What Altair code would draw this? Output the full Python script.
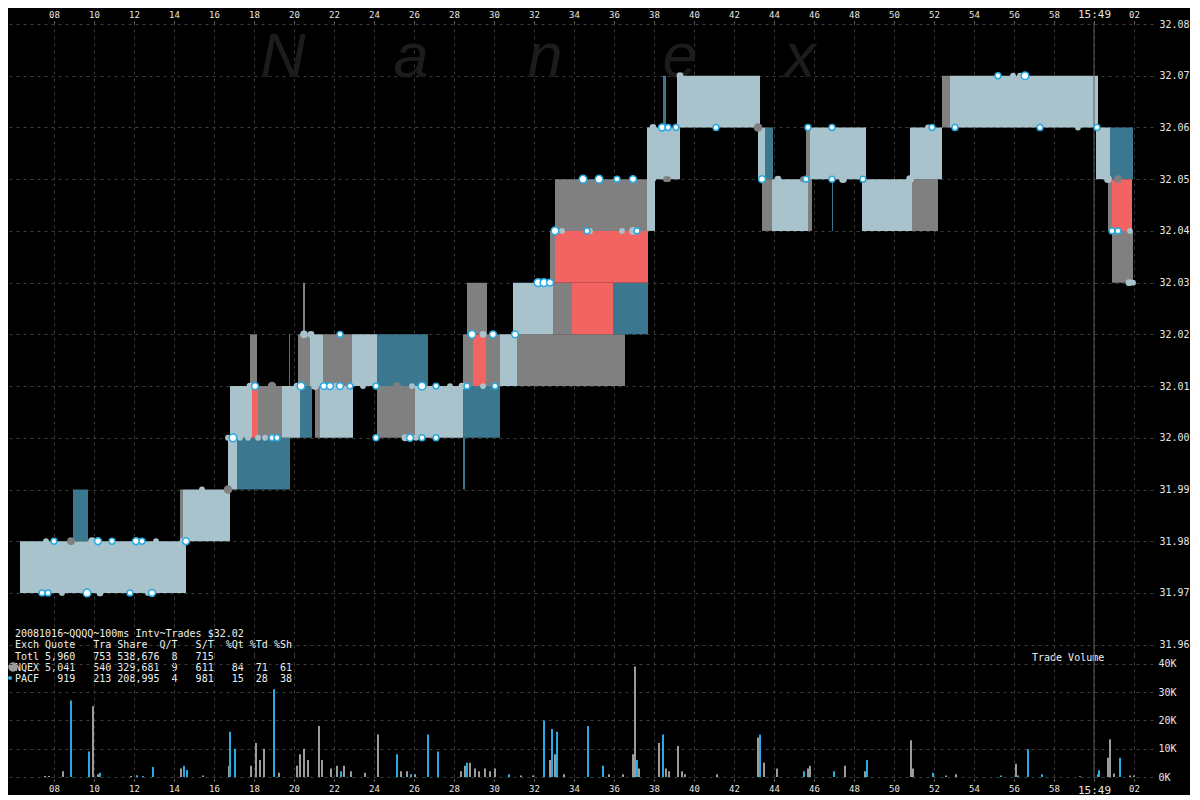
import altair as alt
import pandas as pd

# ---------------- data (time = seconds after 15:48:00) ----------------
# quote bands: start, end, low, high, kind (S solid quote band, W sparse grey quotes, B sparse blue quotes, R crossed)
band_t0 = [6.3, 8.95, 14.3, 14.45, 16.7, 17.15, 16.8, 17.9, 18.2, 19.4,
           20.3, 21.05, 21.3, 24.15, 26.05, 28.45, 28.45, 17.8, 19.75, 20.2,
           20.45, 20.8, 21.45, 22.9, 24.15, 28.45, 28.95, 29.6, 30.3, 31.15,
           28.65, 30.95, 32.95, 33.9, 35.95, 32.8, 33.05, 33.05, 37.65, 38.05,
           38.45, 39.15, 43.2, 43.55, 43.4, 43.9, 45.7, 46.9, 45.6, 45.8,
           48.4, 50.9, 50.8, 52.4, 52.8, 60.1, 60.8, 60.7, 60.9, 60.9]
band_t1 = [14.6, 9.7, 14.45, 16.8, 17.15, 19.8, 17.9, 18.2, 19.4, 20.3,
           20.9, 21.3, 22.95, 26.05, 28.45, 30.3, 28.55, 18.15, 19.8, 20.8,
           20.55, 21.45, 22.9, 24.15, 26.7, 28.95, 29.6, 30.3, 31.15, 36.55,
           29.65, 32.95, 33.9, 35.95, 37.7, 33.05, 37.7, 37.65, 38.05, 39.3,
           38.6, 43.3, 43.55, 43.95, 43.9, 45.7, 45.9, 46.95, 45.8, 48.6,
           50.9, 52.2, 52.4, 52.8, 60.2, 60.8, 61.95, 60.9, 61.9, 61.95]
band_lo = [31.97, 31.98, 31.98, 31.98, 31.99, 31.99, 32.00, 32.00, 32.00, 32.00,
           32.00, 32.00, 32.00, 32.00, 32.00, 32.00, 31.99, 32.01, 32.01, 32.01,
           32.02, 32.01, 32.01, 32.01, 32.01, 32.01, 32.01, 32.01, 32.01, 32.01,
           32.02, 32.02, 32.02, 32.02, 32.02, 32.03, 32.03, 32.04, 32.04, 32.05,
           32.06, 32.06, 32.05, 32.05, 32.04, 32.04, 32.04, 32.04, 32.05, 32.05,
           32.04, 32.04, 32.05, 32.06, 32.06, 32.05, 32.05, 32.04, 32.04, 32.03]
band_hi = [31.98, 31.99, 31.99, 31.99, 32.00, 32.00, 32.01, 32.01, 32.01, 32.01,
           32.01, 32.01, 32.01, 32.01, 32.01, 32.01, 32.00, 32.02, 32.02, 32.02,
           32.03, 32.02, 32.02, 32.02, 32.02, 32.02, 32.02, 32.02, 32.02, 32.02,
           32.03, 32.03, 32.03, 32.03, 32.03, 32.04, 32.04, 32.05, 32.06, 32.06,
           32.07, 32.07, 32.06, 32.06, 32.05, 32.05, 32.05, 32.05, 32.06, 32.06,
           32.05, 32.05, 32.06, 32.07, 32.07, 32.06, 32.06, 32.05, 32.05, 32.04]
band_kind = ["S", "B", "W", "S", "S", "B", "S", "R", "W", "S",
             "B", "W", "S", "W", "S", "B", "B", "W", "B", "W",
             "W", "S", "W", "S", "B", "W", "R", "W", "S", "W",
             "W", "S", "W", "R", "B", "W", "R", "W", "S", "S",
             "B", "S", "S", "B", "W", "S", "W", "B", "W", "S",
             "S", "W", "S", "W", "S", "S", "B", "W", "R", "W"]

# trades: time, price, kind (N = NQEX, P = PACF, W = PACF hollow), size level
trade_t = [7.6, 8.0, 8.85, 9.9, 10.2, 10.9, 12.1, 12.4, 13.1, 14.45, 14.6,
           7.4, 7.7, 8.4, 9.65, 10.3, 11.8, 12.7, 12.9,
           15.4, 16.7,
           16.7, 16.95, 17.3, 17.7, 18.2, 18.55, 18.9, 19.15, 24.1, 25.55, 25.8, 26.1, 26.4, 27.1,
           17.8, 18.05, 18.9, 20.15, 20.35, 21.05, 21.5, 21.8, 22.1, 22.3, 22.8,
           23.45, 24.1, 25.15, 25.9, 26.4, 27.1, 27.8, 28.4, 28.65, 29.45, 30.05,
           20.5, 20.85, 22.3, 28.9, 29.45, 29.95, 31.05,
           32.2, 32.5, 32.55, 32.8,
           33.05, 33.4, 34.65, 34.8, 36.4, 36.95, 37.15,
           34.45, 35.25, 36.15, 36.95, 37.95, 38.7,
           37.95, 38.4, 38.7, 39.1, 41.1, 43.2, 45.7, 46.9, 51.7, 51.9, 53.05, 57.3, 59.2, 60.15,
           39.3, 55.2, 55.95, 56.3, 56.55,
           38.6, 43.4, 44.2, 45.45, 45.6, 46.9, 47.45, 48.45, 50.8, 60.7, 61.2,
           60.9, 61.2, 61.8,
           61.75, 61.95]
trade_px = [31.98, 31.98, 31.98, 31.98, 31.98, 31.98, 31.98, 31.98, 31.98, 31.98, 31.98,
            31.97, 31.97, 31.97, 31.97, 31.97, 31.97, 31.97, 31.97,
            31.99, 31.99,
            32.00, 32.00, 32.00, 32.00, 32.00, 32.00, 32.00, 32.00, 32.00, 32.00, 32.00, 32.00, 32.00, 32.00,
            32.01, 32.01, 32.01, 32.01, 32.01, 32.01, 32.01, 32.01, 32.01, 32.01, 32.01,
            32.01, 32.01, 32.01, 32.01, 32.01, 32.01, 32.01, 32.01, 32.01, 32.01, 32.01,
            32.02, 32.02, 32.02, 32.02, 32.02, 32.02, 32.02,
            32.03, 32.03, 32.03, 32.03,
            32.04, 32.04, 32.04, 32.04, 32.04, 32.04, 32.04,
            32.05, 32.05, 32.05, 32.05, 32.05, 32.05,
            32.06, 32.06, 32.06, 32.06, 32.06, 32.06, 32.06, 32.06, 32.06, 32.06, 32.06, 32.06, 32.06, 32.06,
            32.07, 32.07, 32.07, 32.07, 32.07,
            32.05, 32.05, 32.05, 32.05, 32.05, 32.05, 32.05, 32.05, 32.05, 32.05, 32.05,
            32.04, 32.04, 32.04,
            32.03, 32.03]
trade_kind = ["N", "W", "P", "N", "W", "W", "W", "W", "N", "N", "W",
              "W", "W", "N", "W", "N", "W", "N", "W",
              "N", "P",
              "N", "W", "N", "N", "N", "N", "W", "W", "W", "N", "W", "N", "W", "W",
              "N", "W", "P", "N", "W", "N", "W", "W", "N", "W", "W",
              "N", "W", "P", "N", "W", "W", "N", "N", "W", "N", "W",
              "N", "N", "W", "W", "N", "W", "W",
              "W", "W", "N", "W",
              "W", "N", "W", "N", "N", "N", "W",
              "W", "W", "W", "W", "N", "P",
              "N", "W", "W", "W", "W", "P", "W", "W", "N", "W", "W", "W", "N", "W",
              "N", "W", "N", "N", "W",
              "P", "W", "N", "P", "W", "W", "N", "W", "N", "N", "P",
              "W", "W", "N",
              "N", "N"]
trade_lvl = [1, 1, 3, 3, 2, 1, 2, 1, 1, 2, 2,
             1, 1, 1, 3, 2, 1, 1, 2,
             1, 4,
             1, 3, 1, 1, 1, 1, 1, 1, 1, 2, 2, 1, 1, 1,
             2, 2, 4, 2, 3, 3, 2, 2, 2, 2, 1,
             1, 1, 3, 1, 3, 1, 1, 2, 1, 1, 1,
             3, 2, 1, 3, 2, 2, 2,
             3, 3, 1, 2,
             3, 1, 1, 1, 1, 3, 1,
             3, 3, 1, 2, 1, 1,
             2, 2, 1, 1, 1, 4, 1, 1, 1, 1, 1, 1, 1, 1,
             2, 1, 1, 1, 3,
             1, 2, 2, 1, 1, 1, 3, 1, 3, 3, 3,
             1, 1, 1,
             2, 1]

# trade volume per 100 ms interval (thousands of shares)
vol_t = [7.5, 7.7, 8.4, 8.8, 9.7, 9.9, 10.15, 10.25, 11.8, 12.1,
         12.4, 12.9, 14.3, 14.45, 14.6, 15.4, 16.7, 16.75, 17.0, 17.8,
         18.05, 18.25, 18.45, 18.95, 19.2, 20.1, 20.25, 20.45, 20.65, 21.2,
         21.35, 21.8, 22.1, 22.3, 22.45, 22.8, 23.5, 24.15, 25.1, 25.3,
         25.6, 25.8, 26.0, 26.65, 27.15, 28.3, 28.5, 28.6, 28.75, 29.0,
         29.2, 29.5, 29.75, 30.0, 30.7, 31.3, 31.9, 32.45, 32.75, 32.85,
         33.0, 33.1, 33.45, 34.65, 35.4, 35.7, 36.4, 36.9, 37.0, 37.1,
         37.2, 38.2, 38.4, 38.55, 38.7, 39.15, 39.35, 39.5, 41.1, 43.15,
         43.25, 43.45, 44.1, 45.45, 45.65, 45.75, 46.95, 47.5, 48.5, 48.6,
         50.8, 50.9, 51.9, 52.55, 53.05, 55.3, 56.05, 56.15, 56.65, 57.35,
         59.25, 60.15, 60.2, 60.65, 60.75, 60.95, 61.25, 61.75, 61.95]
vol_k = [0.4, 0.4, 2, 27, 9, 25, 1, 1.5, 0.4, 0.6,
         0.4, 3.5, 3, 4, 2.5, 0.5, 4, 16, 10, 4,
         12, 6, 10, 31, 1.5, 4, 8, 10, 6, 18,
         6, 3, 4, 2, 4, 2, 1.5, 15, 8, 2,
         2, 1, 1, 15, 9, 2, 4, 5, 5, 3,
         2, 3, 2, 3, 1, 0.5, 0.5, 20, 6, 17,
         8, 16, 1, 18, 4, 1, 1, 8, 39, 6,
         3, 12, 15, 3, 2, 11, 2, 1, 1, 14,
         15, 5, 3, 2, 3, 4, 2, 4, 2, 6,
         13, 3, 1.5, 0.5, 1, 0.5, 4.7, 0.5, 9.8, 1,
         0.3, 1, 2.4, 6.8, 13.3, 1.2, 6.8, 0.5, 0.5]
vol_ex = ["N", "N", "N", "P", "P", "N", "N", "P", "N", "P",
          "P", "P", "N", "P", "P", "N", "N", "P", "P", "N",
          "N", "N", "N", "P", "N", "N", "N", "N", "N", "N",
          "N", "N", "N", "P", "N", "N", "N", "N", "P", "N",
          "N", "P", "N", "P", "P", "N", "N", "P", "N", "N",
          "N", "N", "N", "N", "P", "N", "N", "P", "N", "P",
          "N", "P", "N", "P", "P", "N", "N", "N", "N", "P",
          "N", "N", "P", "N", "N", "N", "N", "N", "N", "N",
          "P", "N", "N", "P", "N", "N", "P", "N", "N", "P",
          "N", "N", "P", "N", "N", "P", "N", "P", "P", "P",
          "N", "N", "P", "N", "N", "N", "P", "N", "N"]

tick_secs = [8, 10, 12, 14, 16, 18, 20, 22, 24, 26, 28, 30, 32, 34, 36, 38, 40,
             42, 44, 46, 48, 50, 52, 54, 56, 58, 60, 62]
price_ticks = [31.96, 31.97, 31.98, 31.99, 32.00, 32.01, 32.02, 32.03, 32.04,
               32.05, 32.06, 32.07, 32.08]
vol_ticks = [0, 10, 20, 30, 40]
wm_letters = ["N", "a", "n", "e", "x"]
wm_t = [19.45, 25.85, 32.55, 39.3, 45.3]
wm_px = [32.0698, 32.0698, 32.0698, 32.0698, 32.0698]

stats_lines = [
    "20081016~QQQQ~100ms Intv~Trades $32.02",
    "Exch Quote   Tra Share  Q/T   S/T  %Qt %Td %Sh",
    "Totl 5,960   753 538,676  8   715",
    "NQEX 5,041   540 329,681  9   611   84  71  61",
    "PACF   919   213 208,995  4   981   15  28  38",
]

# ---------------- styling ----------------
FONT = "DejaVu Sans Mono"
GRID = "#3c3c3c"
LBL = "#e6e6e6"
GRAY = "#9b9b9b"
BLUE = "#2aaae2"
W_PLOT = 1145
H_PRICE = 632
H_VOL = 124

label_expr = ("datum.value == 60 ? '15:49' : "
              "((datum.value % 60) < 10 ? '0' : '') + (datum.value % 60)")
xs = alt.Scale(domain=[5.7, 62.95], nice=False, zero=False)
ys = alt.Scale(domain=[31.958, 32.0802], nice=False, zero=False)
yv = alt.Scale(domain=[-0.7, 43.1], nice=False, zero=False)

x_top = alt.Axis(orient="top", values=tick_secs, labelExpr=label_expr, grid=True,
                 gridColor=GRID, gridDash=[3, 4], domain=False, tickColor="#777",
                 tickSize=4, tickDash=[2, 2], labelColor=LBL, labelFont=FONT,
                 labelFontSize={"condition": {"test": "datum.value == 60", "value": 11}, "value": 9},
                 labelPadding=0, title=None)
x_bot = alt.Axis(orient="bottom", values=tick_secs, labelExpr=label_expr, grid=True,
                 gridColor=GRID, gridDash=[3, 4], domain=False, tickColor="#777",
                 tickSize=4, tickDash=[2, 2], labelColor=LBL, labelFont=FONT,
                 labelFontSize={"condition": {"test": "datum.value == 60", "value": 11}, "value": 9},
                 labelPadding=1, title=None)
y_price = alt.Axis(orient="right", values=price_ticks, format=".2f", grid=True,
                   gridColor=GRID, gridDash=[3, 4], domain=False, ticks=False,
                   labelColor=LBL, labelFont=FONT, labelFontSize=10, labelPadding=6, title=None)
y_vol = alt.Axis(orient="right", values=vol_ticks, labelExpr="datum.value + 'K'", grid=True,
                 gridColor=GRID, gridDash=[3, 4], domain=False, ticks=False,
                 labelColor=LBL, labelFont=FONT, labelFontSize=10, labelPadding=5, title=None)

bands = pd.DataFrame({"t0": band_t0, "t1": band_t1, "lo": band_lo, "hi": band_hi, "kind": band_kind})
trades = pd.DataFrame({"t": trade_t, "p": trade_px, "kind": trade_kind, "lvl": trade_lvl})
vols = pd.DataFrame({"t": vol_t, "v": vol_k, "ex": vol_ex})
wm = pd.DataFrame({"ch": wm_letters, "t": wm_t, "p": wm_px})
marker = pd.DataFrame({"t": [60]})
stats = pd.DataFrame({"txt": ["\n".join(l.replace(" ", "\u00a0") for l in stats_lines)]})
tv = pd.DataFrame({"txt": ["Trade\u00a0Volume"]})

size_scale = alt.Scale(domain=[1, 2, 3, 4], range=[34, 72, 145, 240])

# ---------------- price panel ----------------
watermark = alt.Chart(wm).mark_text(font="Liberation Sans", fontSize=63, fontStyle="italic",
                                    color="#1c1c1c", baseline="alphabetic", align="center").encode(
    x=alt.X("t:Q", scale=xs, axis=x_top),
    y=alt.Y("p:Q", scale=ys, axis=y_price),
    text="ch:N")

band_layer = alt.Chart(bands).mark_rect().encode(
    x=alt.X("t0:Q", scale=xs, axis=x_top), x2="t1:Q",
    y=alt.Y("lo:Q", scale=ys, axis=y_price), y2="hi:Q",
    color=alt.Color("kind:N", scale=alt.Scale(domain=["S", "W", "B", "R"],
                                              range=["#a9c3cc", "#808080", "#3b7890", "#f26462"]),
                    legend=None))

rule_p = alt.Chart(marker).mark_rule(color="#5a5a5a", strokeWidth=1).encode(
    x=alt.X("t:Q", scale=xs, axis=x_top), y=alt.value(0), y2=alt.value(H_PRICE))

solid_trades = alt.Chart(trades).transform_filter("datum.kind != 'W'").mark_circle(opacity=1).encode(
    x=alt.X("t:Q", scale=xs, axis=x_top),
    y=alt.Y("p:Q", scale=ys, axis=y_price),
    color=alt.Color("kind:N", scale=alt.Scale(domain=["N", "P"], range=[GRAY, BLUE]), legend=None),
    size=alt.Size("lvl:O", scale=size_scale, legend=None))

hollow_trades = alt.Chart(trades).transform_filter("datum.kind == 'W'").mark_point(
    shape="circle", filled=True, fill="white", stroke=BLUE, strokeWidth=1.5, opacity=1).encode(
    x=alt.X("t:Q", scale=xs, axis=x_top),
    y=alt.Y("p:Q", scale=ys, axis=y_price),
    size=alt.Size("lvl:O", scale=size_scale, legend=None))

stats_text = alt.Chart(stats).mark_text(font=FONT, fontSize=10, color="#f0f0f0", align="left",
                                        baseline="top", lineBreak="\n", lineHeight=11.3).encode(
    x=alt.value(7), y=alt.value(606), text="txt:N")

leg_gray = alt.Chart(marker).mark_circle(color=GRAY, opacity=1, size=90).encode(
    x=alt.value(5), y=alt.value(644))
leg_blue = alt.Chart(marker).mark_circle(color=BLUE, opacity=1, size=16).encode(
    x=alt.value(2), y=alt.value(655))

tv_text = alt.Chart(tv).mark_text(font=FONT, fontSize=10, color="#f0f0f0", align="left",
                                  baseline="middle").encode(
    x=alt.value(1024), y=alt.value(635), text="txt:N")

price = alt.layer(watermark, band_layer, rule_p, solid_trades, hollow_trades,
                  stats_text, leg_gray, leg_blue, tv_text).properties(width=W_PLOT, height=H_PRICE)

# ---------------- volume panel ----------------
vol_bars = alt.Chart(vols).transform_calculate(t2="datum.t + 0.1", z="0").mark_rect().encode(
    x=alt.X("t:Q", scale=xs, axis=x_bot), x2="t2:Q",
    y=alt.Y("v:Q", scale=yv, axis=y_vol), y2="z:Q",
    color=alt.Color("ex:N", scale=alt.Scale(domain=["N", "P"], range=[GRAY, BLUE]), legend=None))

rule_v = alt.Chart(marker).mark_rule(color="#5a5a5a", strokeWidth=1).encode(
    x=alt.X("t:Q", scale=xs, axis=x_bot), y=alt.value(0), y2=alt.value(H_VOL))

vol = alt.layer(vol_bars, rule_v).properties(width=W_PLOT, height=H_VOL)

chart = alt.vconcat(price, vol, spacing=0, bounds="flush").resolve_scale(
    color="independent", size="independent").properties(
    background="black", padding=0).configure_view(stroke=None)

chart.save("out.html", embed_options={"renderer": "svg", "actions": False})
